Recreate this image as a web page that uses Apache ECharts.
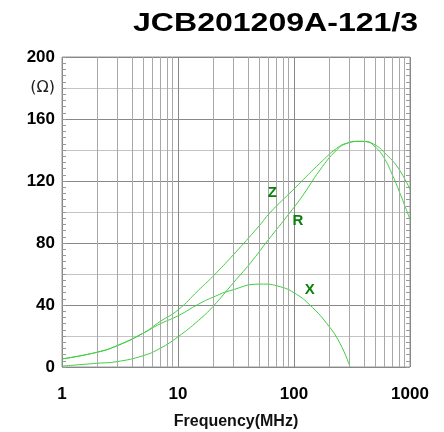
<!DOCTYPE html>
<html>
<head>
<meta charset="utf-8">
<script src="https://cdn.jsdelivr.net/npm/echarts@6/dist/echarts.min.js"></script>
<style>html,body{margin:0;padding:0;background:#fff;}#c{width:444px;height:432px;}</style>
</head>
<body>
<div id="c"></div>
<script>
// Data (frequency MHz, impedance Ω)
const zFreq = [1, 2, 3, 5, 7, 10, 15, 20, 30, 50, 62, 100, 113, 167, 233, 290, 385, 483, 630, 794, 1000];
const zVals = [5.2, 9.5, 13.8, 21.8, 29.3, 36.8, 49.5, 58.5, 72.4, 91, 99.5, 114.9, 118.9, 131.4, 141, 144.5, 145.6, 143.9, 136.8, 128.2, 114.6];
const rFreq = [1, 2, 3, 5, 7, 10, 15, 20, 30, 42, 60, 92, 120, 167, 233, 285, 350, 424, 499, 589, 695, 820, 1000];
const rVals = [0.6, 2.4, 3.5, 7.3, 12, 19.5, 30, 39, 54.3, 67, 82, 99.5, 111, 127, 140, 144.3, 145.6, 145.3, 142.1, 135.7, 125, 112, 95.3];
const xFreq = [1, 2, 3, 5, 7, 10, 15, 20, 28, 51, 76, 105, 137, 191, 249, 304];
const xVals = [5.2, 9.5, 13.8, 21.8, 27.8, 33, 40.5, 45, 49.2, 53.5, 51.8, 46.9, 40, 28.2, 15.3, 0];
const labelPos = { Z: [65, 112.6], R: [108, 94.5], X: [136.5, 49.8] };
const xTicks = [1, 10, 100, 1000];
const yTickLabels = [0, 40, 80, 120, 160, 200];
const unitLabel = '(Ω)';
const minorGrid = [2,3,4,5,6,7,8,9,20,30,40,50,60,70,80,90,200,300,400,500,600,700,800,900];

const pair = (f, v) => f.map((x, i) => [x, v[i]]);
const green = '#3fcf3f';
const labelStyle = { show: true, position: 'inside', color: '#0a800a', fontFamily: 'Liberation Sans', fontWeight: 'bold', fontSize: 15 };

function mkSeries(name, data, extra) {
  return Object.assign({
    name, type: 'line', data, smooth: true, showSymbol: false, symbol: 'none',
    lineStyle: { color: green, width: 1 }, silent: true,
    markPoint: {
      symbol: 'circle', symbolSize: 0, silent: true,
      label: Object.assign({}, labelStyle, { formatter: name }),
      data: [{ coord: labelPos[name] }]
    }
  }, extra || {});
}

const chart = echarts.init(document.getElementById('c'), null, { renderer: 'canvas' });
const yCommon = {
  type: 'value', min: 0, max: 200, interval: 20,
  axisLine: { show: false },
  axisTick: { show: true, inside: true, length: 4, lineStyle: { color: '#999' } },
  minorTick: { show: true, splitNumber: 5, length: 4, lineStyle: { color: '#999' } }
};
chart.setOption({
  animation: false,
  graphic: [{
    type: 'text', left: 133, top: 11, scaleX: 1.233,
    style: { text: 'JCB201209A-121/3', font: 'bold 26px "Liberation Sans"', fill: '#000' }
  }],
  grid: { left: 62, right: 34, top: 57, bottom: 65, show: true, borderColor: '#999', borderWidth: 1, containLabel: false, outerBoundsMode: 'none' },
  xAxis: {
    type: 'log', logBase: 10, min: 1, max: 1000,
    name: 'Frequency(MHz)', nameLocation: 'middle', nameGap: 47,
    nameTextStyle: { fontFamily: 'Liberation Sans', fontWeight: 'bold', fontSize: 16, color: '#111' },
    axisLine: { show: false }, axisTick: { show: false },
    axisLabel: {
      margin: 19, fontFamily: 'Liberation Sans', fontWeight: 'bold', fontSize: 17, color: '#000',
      formatter: v => { const r = Math.round(v); return xTicks.includes(r) ? String(r) : ''; }
    },
    splitLine: { show: true, lineStyle: { color: '#888', width: 1 } }
  },
  yAxis: [
    Object.assign({}, yCommon, {
      position: 'left',
      axisLabel: {
        margin: 7, fontFamily: 'Liberation Sans', fontWeight: 'bold', fontSize: 17, color: '#000',
        formatter: v => yTickLabels.includes(v) ? String(v) : (v === 180 ? '{o|' + unitLabel + '}' : ''),
        rich: { o: { fontFamily: 'DejaVu Sans', fontWeight: 'normal', fontSize: 16, color: '#222' } }
      },
      splitLine: { show: true, lineStyle: { color: ['#888', '#c4c4c4'], width: 1 } }
    }),
    Object.assign({}, yCommon, {
      position: 'right',
      axisLabel: { show: false },
      splitLine: { show: false }
    })
  ],
  series: [
    mkSeries('Z', pair(zFreq, zVals), {
      markLine: {
        silent: true, symbol: 'none', label: { show: false },
        lineStyle: { color: '#a8a8a8', type: 'solid', width: 1 },
        data: minorGrid.map(v => ({ xAxis: v }))
      }
    }),
    mkSeries('R', pair(rFreq, rVals)),
    mkSeries('X', pair(xFreq, xVals))
  ]
});
</script>
</body>
</html>
